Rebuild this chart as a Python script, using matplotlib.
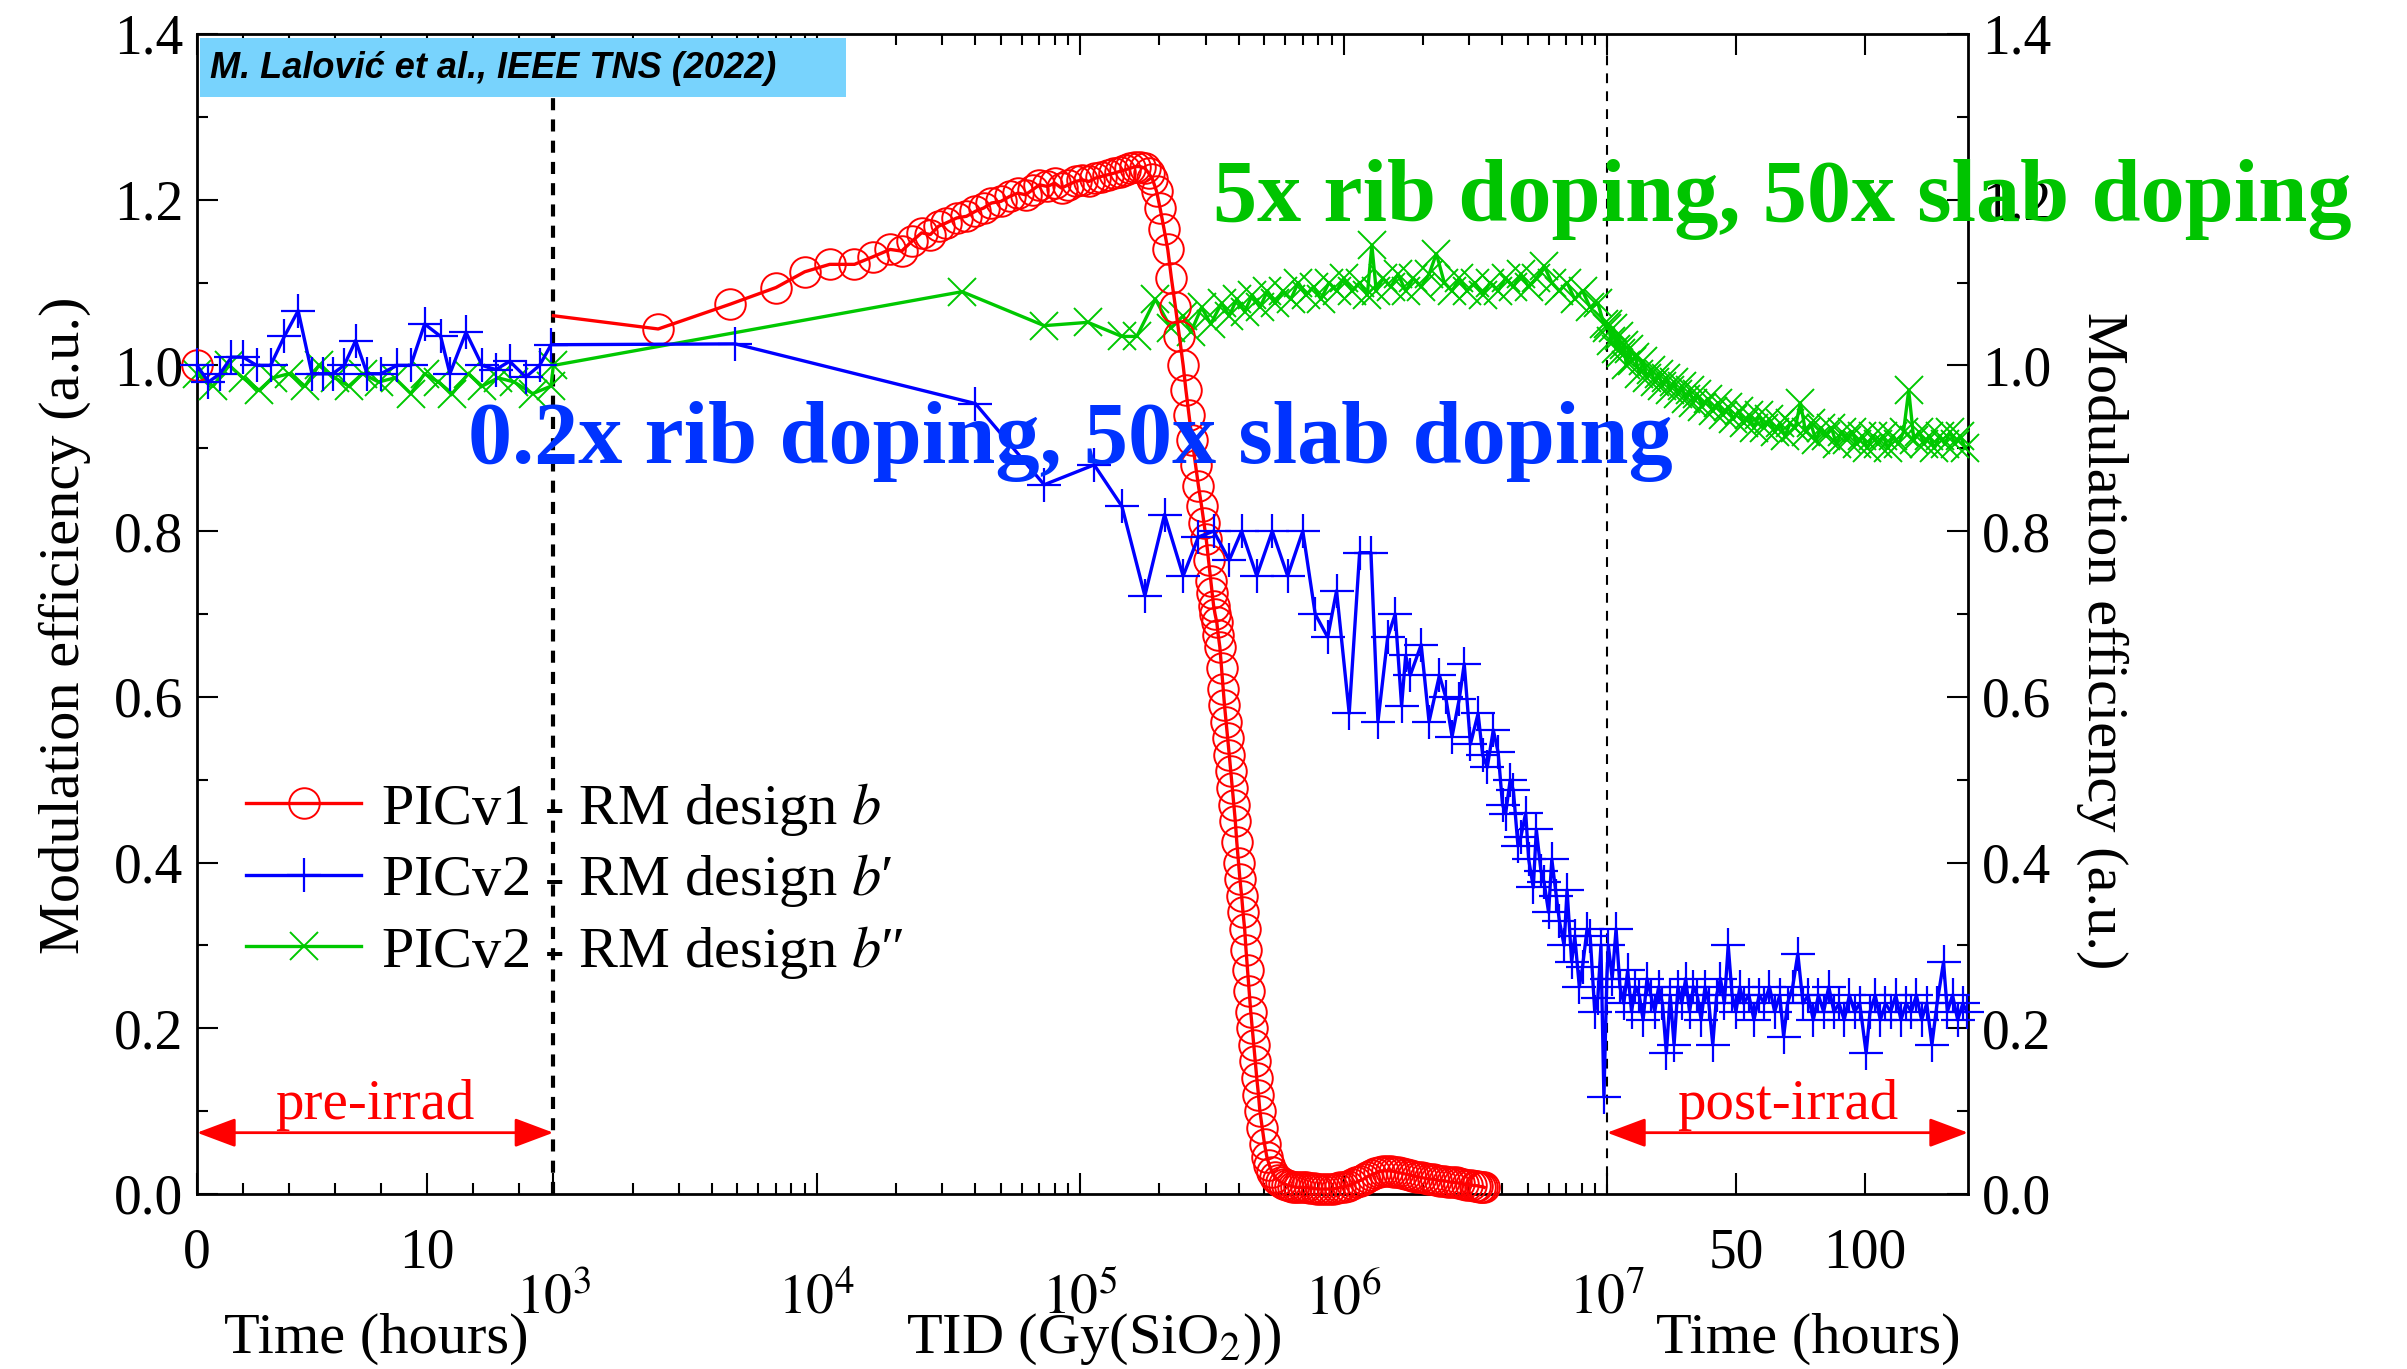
import numpy as np
import matplotlib
matplotlib.use("Agg")
import matplotlib.pyplot as plt
from matplotlib.patches import Rectangle
from matplotlib.ticker import FixedLocator, FormatStrFormatter, MultipleLocator

plt.rcParams["font.family"] = ["Liberation Serif", "DejaVu Serif"]
plt.rcParams["mathtext.fontset"] = "stix"
plt.rcParams["axes.linewidth"] = 2.0

# ---- x axis layout: hours before irradiation | dose (log) | hours after ----
PRE_END = 15.5
DOSE_MIN, DOSE_MAX = 1e3, 1e7
POST_END = 140.0
W_PRE, W_DEC, W_POST = 232.0, 171.5, 235.0
W_TID = 4 * W_DEC

# ---- data ----
red_pre_h = [0.0]
red_pre = [1.00]

red_dose = [1.0e3, 2.5e3, 4.7e3, 7.0e3, 9.0e3, 1.12e4, 1.39e4, 1.63e4,
            1.9e4, 2.1e4, 2.3e4, 2.5e4, 2.7e4, 2.9e4, 3.1e4, 3.4e4, 3.7e4, 4.0e4,
            4.3e4, 4.6e4, 5.0e4, 5.4e4, 5.8e4, 6.2e4, 6.6e4, 7.0e4, 7.5e4, 8.0e4,
            8.5e4, 9.0e4, 9.6e4, 1.02e5, 1.08e5, 1.14e5, 1.20e5, 1.27e5, 1.34e5, 1.41e5,
            1.48e5, 1.55e5, 1.62e5, 1.69e5, 1.76e5,
            1.82e5, 1.88e5, 1.95e5, 2.01e5, 2.08e5, 2.15e5, 2.22e5, 2.30e5, 2.38e5, 2.46e5,
            2.52e5, 2.59e5, 2.66e5, 2.74e5, 2.81e5, 2.89e5, 2.95e5, 3.01e5, 3.07e5, 3.13e5,
            3.17e5, 3.21e5, 3.25e5, 3.30e5, 3.34e5, 3.39e5, 3.44e5, 3.49e5, 3.53e5, 3.58e5,
            3.63e5, 3.68e5, 3.73e5, 3.78e5, 3.83e5, 3.88e5, 3.93e5, 3.99e5, 4.04e5, 4.10e5,
            4.15e5, 4.21e5, 4.26e5, 4.32e5, 4.38e5, 4.44e5, 4.50e5, 4.56e5, 4.62e5, 4.68e5,
            4.75e5, 4.81e5, 4.91e5, 5.01e5, 5.11e5, 5.22e5, 5.36e5, 5.50e5,
            5.65e5, 5.8e5, 5.95e5, 6.1e5, 6.25e5, 6.4e5, 6.6e5, 6.8e5, 7.0e5, 7.2e5,
            7.45e5, 7.7e5, 7.95e5, 8.2e5, 8.5e5, 8.8e5, 9.1e5, 9.4e5, 9.7e5, 1.0e6,
            1.04e6, 1.08e6, 1.11e6, 1.15e6, 1.19e6, 1.23e6, 1.27e6, 1.32e6, 1.36e6, 1.41e6,
            1.46e6, 1.51e6, 1.56e6, 1.61e6, 1.66e6, 1.72e6, 1.78e6, 1.84e6, 1.90e6, 1.97e6,
            2.04e6, 2.11e6, 2.18e6, 2.25e6, 2.33e6, 2.41e6, 2.49e6, 2.58e6, 2.66e6, 2.75e6,
            2.84e6, 2.94e6, 3.04e6, 3.15e6, 3.22e6, 3.30e6, 3.36e6, 3.42e6]
red_tid = [1.060, 1.044, 1.074, 1.094, 1.113, 1.122, 1.122, 1.131,
           1.140, 1.138, 1.150, 1.160, 1.158, 1.168, 1.172, 1.178, 1.180, 1.186,
           1.190, 1.196, 1.198, 1.204, 1.208, 1.206, 1.212, 1.218, 1.216, 1.220,
           1.214, 1.218, 1.222, 1.224, 1.222, 1.226, 1.228, 1.230, 1.232, 1.234,
           1.236, 1.238, 1.240, 1.240, 1.238,
           1.232, 1.225, 1.21, 1.19, 1.165, 1.14, 1.105, 1.07, 1.035, 1.00,
           0.97, 0.94, 0.91, 0.88, 0.855, 0.83, 0.81, 0.79, 0.765, 0.74,
           0.725, 0.71, 0.70, 0.69, 0.675, 0.66, 0.635, 0.61, 0.59, 0.57,
           0.55, 0.53, 0.51, 0.49, 0.47, 0.45, 0.425, 0.40, 0.38, 0.36,
           0.34, 0.32, 0.295, 0.27, 0.245, 0.22, 0.20, 0.18, 0.16, 0.14,
           0.12, 0.10, 0.08, 0.06, 0.045, 0.035, 0.026, 0.02,
           0.017, 0.014, 0.012, 0.011, 0.010, 0.009, 0.008, 0.008, 0.008, 0.008,
           0.007, 0.007, 0.006, 0.006, 0.006, 0.006, 0.006, 0.007, 0.008, 0.009,
           0.010, 0.012, 0.014, 0.016, 0.018, 0.021, 0.023, 0.025, 0.027, 0.028,
           0.028, 0.028, 0.027, 0.026, 0.025, 0.024, 0.023, 0.022, 0.021, 0.020,
           0.019, 0.018, 0.018, 0.017, 0.016, 0.016, 0.015, 0.014, 0.014, 0.013,
           0.012, 0.011, 0.011, 0.010, 0.010, 0.009, 0.009, 0.008]

blue_pre_h = [0.0, 0.5, 1.0, 1.5, 2.0, 2.6, 3.2, 3.8, 4.4, 5.0, 5.5, 5.9, 6.4, 6.9,
              7.4, 8.0, 8.7, 9.3, 9.9, 10.6, 11.0, 11.7, 12.4, 13.0, 13.6, 14.3, 14.9, 15.4]
blue_pre = [1.00, 0.98, 0.99, 1.01, 1.01, 1.00, 1.00, 1.035, 1.066, 0.99, 0.99, 0.99, 1.00, 1.03,
            0.99, 0.99, 1.00, 1.00, 1.05, 1.035, 0.99, 1.04, 1.00, 0.995, 1.005, 0.986, 1.00, 1.025]

blue_dose = [4.9e3, 4.0e4, 7.3e4, 1.13e5, 1.44e5, 1.76e5, 2.09e5, 2.46e5, 2.81e5, 3.21e5,
             3.68e5, 4.10e5, 4.68e5, 5.36e5, 6.13e5, 7.0e5, 7.8e5, 8.7e5, 9.4e5, 1.05e6,
             1.15e6, 1.27e6, 1.35e6, 1.47e6, 1.57e6, 1.66e6, 1.72e6, 1.79e6, 1.97e6, 2.11e6,
             2.31e6, 2.44e6, 2.58e6, 2.75e6, 2.87e6, 3.03e6, 3.24e6, 3.37e6, 3.51e6, 3.70e6,
             3.86e6, 4.01e6, 4.12e6, 4.29e6, 4.41e6, 4.59e6, 4.71e6, 4.91e6, 5.04e6, 5.25e6,
             5.39e6, 5.61e6, 5.77e6, 6.0e6, 6.17e6, 6.42e6, 6.59e6, 6.87e6, 7.05e6, 7.34e6,
             7.54e6, 7.85e6, 8.07e6, 8.40e6, 8.63e6, 8.98e6, 9.23e6, 9.48e6, 9.73e6, 9.98e6]
blue_tid = [1.026, 0.954, 0.856, 0.88, 0.83, 0.722, 0.82, 0.746, 0.793, 0.80,
            0.765, 0.80, 0.746, 0.80, 0.746, 0.80, 0.70, 0.672, 0.728, 0.58,
            0.774, 0.774, 0.57, 0.672, 0.70, 0.589, 0.65, 0.626, 0.663, 0.57,
            0.626, 0.60, 0.552, 0.598, 0.64, 0.543, 0.58, 0.53, 0.515, 0.56,
            0.533, 0.47, 0.459, 0.50, 0.487, 0.42, 0.431, 0.46, 0.404, 0.37,
            0.44, 0.39, 0.376, 0.34, 0.404, 0.36, 0.33, 0.30, 0.367, 0.28,
            0.311, 0.25, 0.274, 0.32, 0.311, 0.22, 0.237, 0.30, 0.117, 0.26]

blue_post_h = [0.5, 2, 3.5, 5, 6.5, 8, 9.5, 11, 12.5, 14, 15.5, 17, 18.5, 20, 21.5,
               23, 24.5, 26, 27.5, 29, 30.5, 32, 33.5, 35, 36.5, 38, 39.5, 41, 42.5, 44,
               45.5, 47, 48.5, 50, 51.5, 53, 55, 57, 59, 61, 63, 65, 67, 68.5, 70,
               72, 74, 76, 78, 80, 82, 84, 86, 88, 90, 92, 94, 96, 98, 100.5,
               102, 104, 106, 108, 110, 112, 114, 116, 118, 120, 122, 124, 126, 128, 130.5,
               132, 134, 136, 138, 139.5]
blue_post = [0.30, 0.26, 0.32, 0.25, 0.23, 0.27, 0.22, 0.25, 0.24, 0.21, 0.26, 0.24, 0.22, 0.25, 0.23,
             0.17, 0.24, 0.18, 0.25, 0.23, 0.26, 0.22, 0.25, 0.24, 0.21, 0.25, 0.23, 0.18, 0.24, 0.26,
             0.23, 0.30, 0.24, 0.22, 0.25, 0.23, 0.24, 0.21, 0.24, 0.23, 0.25, 0.22, 0.24, 0.19, 0.23,
             0.25, 0.29, 0.23, 0.24, 0.21, 0.24, 0.22, 0.25, 0.22, 0.23, 0.21, 0.24, 0.22, 0.23, 0.17,
             0.22, 0.24, 0.21, 0.23, 0.22, 0.24, 0.21, 0.23, 0.22, 0.24, 0.21, 0.23, 0.18, 0.23, 0.28,
             0.22, 0.24, 0.21, 0.23, 0.22]

green_pre_h = [0.0, 0.7, 1.4, 2.0, 2.7, 3.3, 4.0, 4.7, 5.3, 6.0, 6.6, 7.2, 7.9, 8.6,
               9.3, 9.9, 10.5, 11.1, 11.8, 12.4, 13.1, 13.8, 14.6, 15.4]
green_pre = [0.99, 0.975, 1.0, 0.985, 0.97, 0.985, 0.99, 0.975, 1.0, 0.985, 0.975, 0.99, 0.98, 0.985,
             0.966, 0.99, 0.98, 0.966, 0.99, 0.975, 0.985, 0.98, 0.966, 0.975]

green_dose = [1.0e3, 3.56e4, 7.3e4, 1.07e5, 1.44e5, 1.64e5, 1.93e5, 2.21e5, 2.46e5, 2.63e5,
              2.89e5, 3.13e5, 3.44e5, 3.68e5, 3.93e5, 4.21e5, 4.50e5, 4.81e5, 5.14e5, 5.50e5,
              5.88e5, 6.30e5, 6.73e5, 7.20e5, 7.69e5, 8.20e5, 8.80e5, 9.40e5, 1.0e6, 1.08e6,
              1.15e6, 1.23e6, 1.28e6, 1.33e6, 1.41e6, 1.51e6, 1.61e6, 1.72e6, 1.84e6, 1.97e6,
              2.11e6, 2.25e6, 2.41e6, 2.58e6, 2.75e6, 2.94e6, 3.15e6, 3.37e6, 3.60e6, 3.86e6,
              4.12e6, 4.41e6, 4.71e6, 5.04e6, 5.39e6, 5.77e6, 6.17e6, 6.59e6, 7.05e6, 7.54e6,
              8.07e6, 8.63e6, 9.23e6, 9.73e6, 1.0e7]
green_tid = [1.00, 1.089, 1.048, 1.052, 1.035, 1.035, 1.08, 1.045, 1.06, 1.04,
             1.07, 1.05, 1.075, 1.06, 1.08, 1.065, 1.085, 1.07, 1.09, 1.075,
             1.09, 1.08, 1.10, 1.085, 1.095, 1.08, 1.10, 1.09, 1.105, 1.09,
             1.10, 1.085, 1.145, 1.09, 1.105, 1.095, 1.11, 1.09, 1.105, 1.095,
             1.11, 1.135, 1.10, 1.09, 1.105, 1.09, 1.10, 1.085, 1.10, 1.09,
             1.105, 1.095, 1.11, 1.095, 1.105, 1.12, 1.10, 1.09, 1.10, 1.08,
             1.09, 1.07, 1.075, 1.05, 1.045]

green_post_h = [0.5, 1.5, 2.5, 3.5, 4.5, 5.5, 6.5, 7.5, 8.5, 9.5, 11, 12.5, 14, 15.5, 17,
                18.5, 20, 21.5, 23, 24.5, 26, 27.5, 29, 30.5, 32, 33.5, 35, 37, 39, 41,
                43, 45, 47, 49, 51, 53, 55, 57, 59, 61, 63, 65, 67, 69, 71,
                73, 75, 77, 79, 81, 83, 85, 87, 89, 91, 93, 95, 97, 99, 101,
                103, 105, 107, 109, 111, 113, 115, 117, 119, 121, 123, 125, 127, 129, 131,
                133, 135, 137, 139]
green_post = [1.05, 1.03, 1.045, 1.02, 1.035, 1.015, 1.025, 1.00, 1.02, 1.005, 1.01, 0.99, 1.005, 0.985, 0.995,
              0.98, 0.99, 0.975, 0.985, 0.97, 0.98, 0.965, 0.975, 0.96, 0.97, 0.955, 0.965, 0.95, 0.96, 0.945,
              0.955, 0.94, 0.95, 0.935, 0.945, 0.93, 0.94, 0.925, 0.94, 0.925, 0.935, 0.92, 0.93, 0.915, 0.93,
              0.925, 0.955, 0.92, 0.93, 0.91, 0.925, 0.915, 0.925, 0.905, 0.92, 0.91, 0.92, 0.905, 0.915, 0.90,
              0.915, 0.905, 0.915, 0.90, 0.915, 0.905, 0.92, 0.97, 0.91, 0.92, 0.905, 0.915, 0.90, 0.915, 0.905,
              0.92, 0.905, 0.915, 0.90]

legend_labels = ["PICv1 - RM design $b$", "PICv2 - RM design $b$\u2032", "PICv2 - RM design $b$\u2033"]


# piecewise axis: linear hours, log dose, linear hours (offset past DOSE_MAX)
def forward(x):
    x = np.asarray(x, dtype=float)
    dose = np.clip(x, DOSE_MIN, DOSE_MAX)
    return np.where(x <= PRE_END, x / PRE_END * W_PRE,
           np.where(x < DOSE_MIN, W_PRE,
           np.where(x <= DOSE_MAX, W_PRE + W_DEC * np.log10(dose / DOSE_MIN),
                    W_PRE + W_TID + (x - DOSE_MAX) / POST_END * W_POST)))


def inverse(u):
    u = np.asarray(u, dtype=float)
    mid = np.clip(u, W_PRE, W_PRE + W_TID)
    return np.where(u <= W_PRE, u / W_PRE * PRE_END,
           np.where(u <= W_PRE + W_TID, DOSE_MIN * 10 ** ((mid - W_PRE) / W_DEC),
                    DOSE_MAX + (u - W_PRE - W_TID) / W_POST * POST_END))


def series(pre_h, pre_v, dose, tid_v, post_h=(), post_v=(), gap=False):
    sep_x = [np.nan] if gap else []
    x = np.concatenate([pre_h, sep_x, dose, DOSE_MAX + np.asarray(post_h, float)])
    y = np.concatenate([pre_v, sep_x, tid_v, post_v])
    return x, y


W, H = 2407, 1369
fig = plt.figure(figsize=(W / 100, H / 100), dpi=100)
ax = fig.add_axes([197 / W, 175 / H, 1771 / W, 1160 / H])
ax.set_xscale("function", functions=(forward, inverse))

gx, gy = series(green_pre_h, green_pre, green_dose, green_tid, green_post_h, green_post)
rx, ry = series(red_pre_h, red_pre, red_dose, red_tid, gap=True)
bx, by = series(blue_pre_h, blue_pre, blue_dose, blue_tid, blue_post_h, blue_post)

# the red TID trace starts at the boundary without a symbol there
red_marks = np.flatnonzero(rx != DOSE_MIN)

l_green, = ax.plot(gx, gy, color="#00c800", lw=2.4, marker="x", ms=20, mew=1.4,
                   zorder=3, clip_on=False)
l_red, = ax.plot(rx, ry, color="#ff0000", lw=2.4, marker="o", ms=22, mfc="none", mew=1.4,
                 markevery=list(red_marks), zorder=4, clip_on=False)
l_blue, = ax.plot(bx, by, color="#0000ff", lw=2.4, marker="+", ms=24, mew=1.6,
                  zorder=5, clip_on=False)

# phase boundaries
ax.axvline(DOSE_MIN, color="black", lw=3, dashes=(2.9, 2.2), zorder=2)
ax.axvline(DOSE_MAX, color="black", lw=1.5, dashes=(4.7, 3.9), zorder=2)

ax.set_xlim(0, DOSE_MAX + POST_END)
ax.set_ylim(0, 1.4)

# ticks
major_x = [0, 10] + [10.0 ** n for n in range(3, 8)] + [DOSE_MAX + 50, DOSE_MAX + 100]
major_lbl = ["0", "10", "", "", "", "", "", "50", "100"]
minor_x = [2, 4, 6, 8, 12, 14] + [k * 10.0 ** n for n in range(3, 7) for k in range(2, 10)]
ax.xaxis.set_major_locator(FixedLocator(major_x))
ax.set_xticklabels(major_lbl)
ax.xaxis.set_minor_locator(FixedLocator(minor_x))
ax.yaxis.set_major_locator(MultipleLocator(0.2))
ax.yaxis.set_minor_locator(MultipleLocator(0.1))
ax.yaxis.set_major_formatter(FormatStrFormatter("%.1f"))
ax.tick_params(which="both", direction="in", top=True, right=True, width=1.5)
ax.tick_params(which="major", length=15)
ax.tick_params(which="minor", length=8)
ax.tick_params(axis="y", labelleft=True, labelright=True, labelsize=40, pad=10)
ax.tick_params(axis="x", labelsize=40, pad=24)

for n in range(3, 8):
    ax.annotate(f"$10^{{{n}}}$", xy=(10.0 ** n, 0), xycoords=("data", "axes fraction"),
                xytext=(0, -86), textcoords="offset points",
                ha="center", va="baseline", fontsize=40)

for xf, txt in [(0.101, "Time (hours)"), (0.5065, "TID (Gy(SiO$_2$))"), (0.9097, "Time (hours)")]:
    ax.annotate(txt, xy=(xf, 0), xycoords="axes fraction", xytext=(0, -114),
                textcoords="offset points", ha="center", va="baseline", fontsize=42)

ax.text(-0.0748, 0.49, "Modulation efficiency (a.u.)", transform=ax.transAxes,
        rotation=90, ha="center", va="center", fontsize=42)
ax.text(1.076, 0.477, "Modulation efficiency (a.u.)", transform=ax.transAxes,
        rotation=-90, ha="center", va="center", fontsize=42)

# pre / post irradiation spans
arrow = dict(arrowstyle="<|-|>,head_length=1.2,head_width=0.45", color="#ff0000",
             lw=2, shrinkA=0, shrinkB=0, mutation_scale=20)
ax.annotate("", xy=(DOSE_MIN, 0.074), xytext=(0, 0.074), arrowprops=arrow)
ax.annotate("", xy=(DOSE_MAX + POST_END, 0.074), xytext=(DOSE_MAX, 0.074), arrowprops=arrow)
ax.text(PRE_END / 2, 0.091, "pre-irrad", color="#ff0000", fontsize=41, ha="center", va="baseline")
ax.text(DOSE_MAX + POST_END / 2, 0.091, "post-irrad", color="#ff0000", fontsize=41,
        ha="center", va="baseline")

# design notes
ax.text(0.153, 0.649, "0.2x rib doping, 50x slab doping", transform=ax.transAxes,
        color="#0033ff", fontsize=63.5, fontweight="bold", ha="left", va="center", zorder=7)
ax.text(0.5737, 0.857, "5x rib doping, 50x slab doping", transform=ax.transAxes,
        color="#00c400", fontsize=63.5, fontweight="bold", ha="left", va="center", zorder=7)

ax.legend([l_red, l_blue, l_green], legend_labels, loc="center left",
          bbox_to_anchor=(0.0277, 0.270), frameon=False, fontsize=42, numpoints=1,
          markerfirst=True, handlelength=1.97, handletextpad=0.34, borderpad=0,
          borderaxespad=0, labelspacing=0.25)

# citation tag
fig.add_artist(Rectangle((200 / W, 1 - 97 / H), 646 / W, 59 / H, transform=fig.transFigure,
                         facecolor="#78d3fd", edgecolor="none", zorder=10))
fig.text(210 / W, 1 - 68 / H, "M. Lalović et al., IEEE TNS (2022)", fontsize=26,
         family=["Liberation Sans", "DejaVu Sans"], fontweight="bold", fontstyle="italic",
         ha="left", va="center", zorder=11)

fig.savefig("out.png", dpi=100)
